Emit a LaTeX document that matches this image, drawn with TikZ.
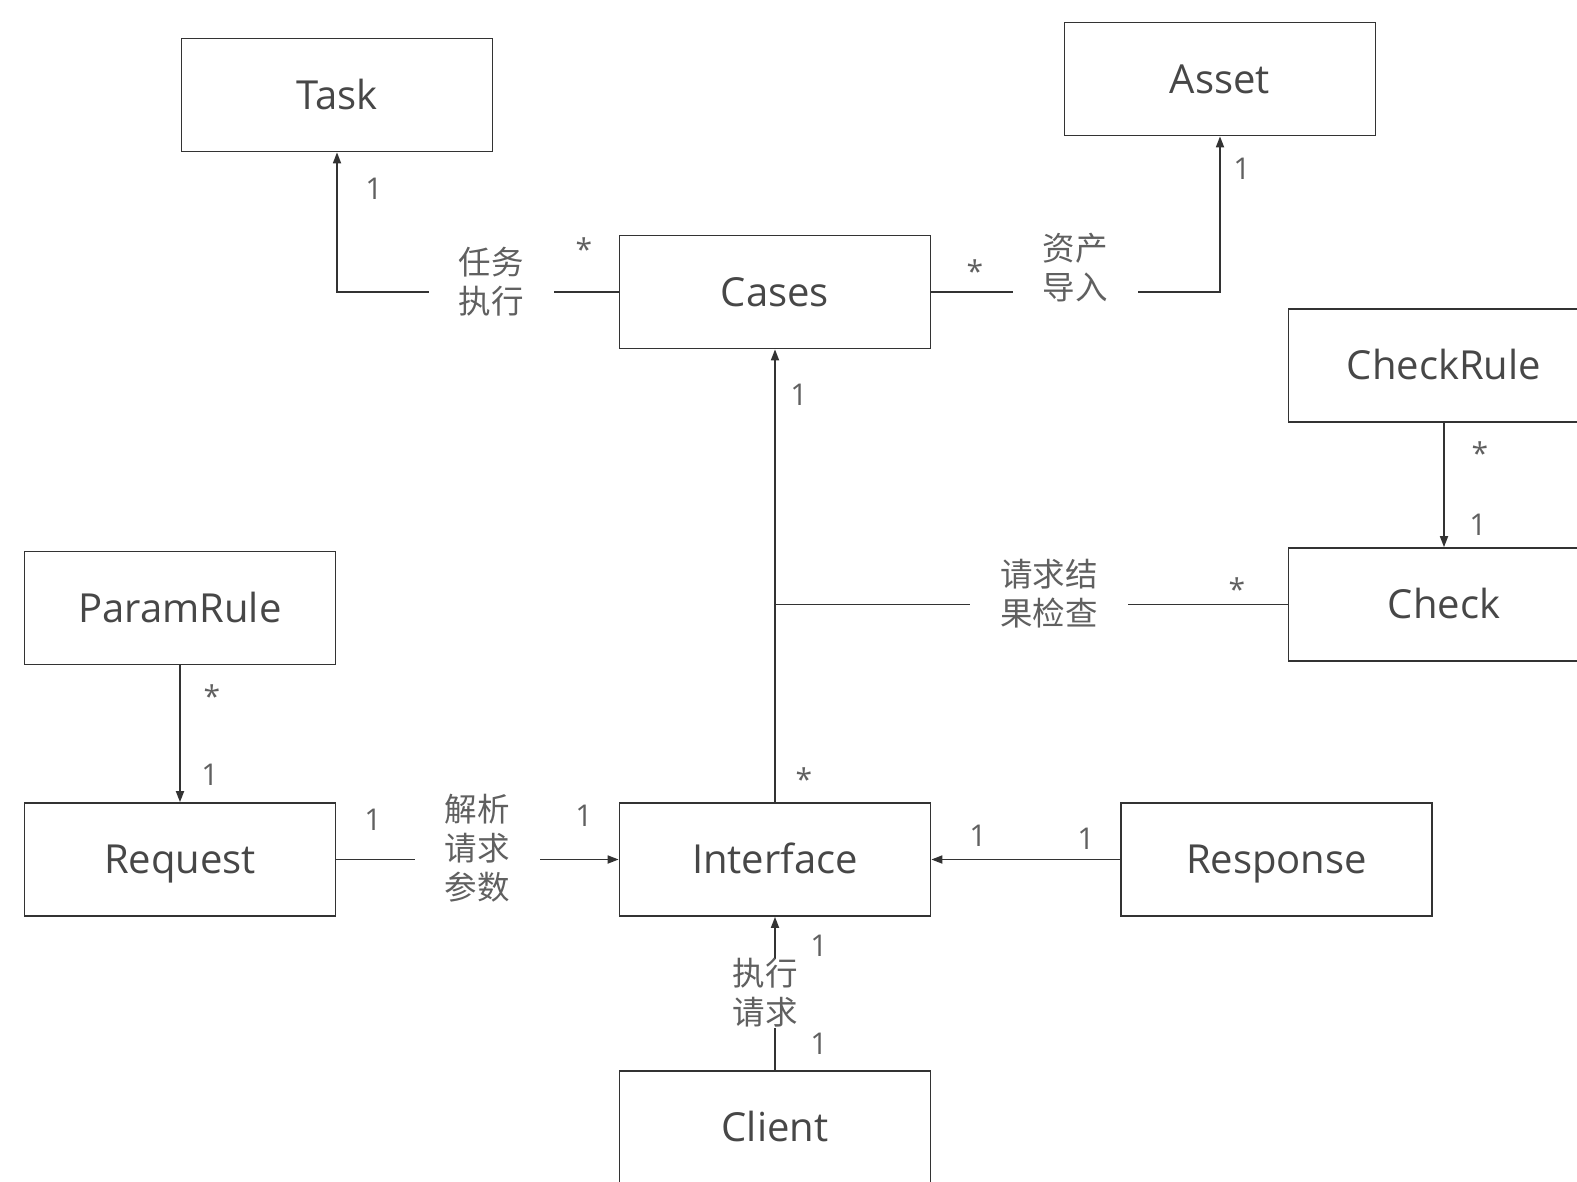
\documentclass[tikz,border=0pt]{standalone}
\usepackage{fontspec}
\setmainfont{Open Sans}
\newfontfamily\cjk{Noto Sans CJK SC}
\usetikzlibrary{arrows.meta}
\definecolor{boxc}{HTML}{333333}
\definecolor{txtc}{HTML}{474747}
\definecolor{lblc}{HTML}{606060}
\definecolor{linec}{HTML}{333333}
\begin{document}
\begin{tikzpicture}[x=1pt,y=-1pt,
  box/.style={draw=boxc, line width=1.7pt, minimum width=311pt, minimum height=113pt, inner sep=0pt, text=txtc, text height=28pt, text depth=0pt, font=\fontsize{40}{46}\selectfont},
  conn/.style={draw=linec, line width=1.7pt},
  arr/.style={conn, -{Triangle[length=11pt,width=8pt]}},
  lbl/.style={fill=white, text=lblc, font=\cjk\fontsize{32.5}{39}\selectfont, align=center, inner xsep=30pt, inner ysep=2pt},
  mult/.style={text=lblc, font=\fontsize{30}{31}\selectfont, inner sep=0pt}]
\useasboundingbox (0,0) rectangle (1577,1181);
\clip (0,0) rectangle (1577,1181);
\fill[white] (0,0) rectangle (1577,1181);
% boxes
\node[box] (Task) at (337,95) {Task};
\node[box] (Asset) at (1220,79) {Asset};
\node[box] (Cases) at (775,292) {Cases};
\node[box] (CheckRule) at (1444,365.5) {CheckRule};
\node[box] (Check) at (1444,604.5) {Check};
\node[box] (ParamRule) at (180,608) {ParamRule};
\node[box] (Request) at (180,859.5) {Request};
\node[box] (Interface) at (775,859.5) {Interface};
\node[box] (Response) at (1276.5,859.5) {Response};
\node[box] (Client) at (775,1127.5) {Client};
% connectors
\draw[arr] (Cases.west) -| (Task.south);
\draw[arr] (Cases.east) -| (Asset.south);
\draw[arr] (CheckRule.south) -- (Check.north);
\draw[arr] (ParamRule.south) -- (Request.north);
\draw[arr] (Interface.north) -- (Cases.south);
\coordinate (J) at (Cases.south |- Check.west);
\draw[conn] (Check.west) -- (J);
\draw[arr] (Request.east) -- (Interface.west);
\draw[arr] (Response.west) -- (Interface.east);
\draw[arr] (Client.north) -- (Interface.south);
% connector labels
\node[lbl] (l1) at (491,282) {任务\\执行};
\node[lbl] (l2) at (1075,268) {资产\\导入};
\node[lbl] (l3) at (1049,594) {请求结\\果检查};
\node[lbl] (l4) at (477,848) {解析\\请求\\参数};
\node[lbl, inner sep=0pt] (l5) at (765,993) {执行\\请求};
% multiplicities
\node[mult] (m1) at (374,189) {1};
\node[mult] (m2) at (584,249) {*};
\node[mult] (m3) at (975,271) {*};
\node[mult] (m4) at (1242,169) {1};
\node[mult] (m5) at (1480,453) {*};
\node[mult] (m6) at (1478,525) {1};
\node[mult] (m7) at (799,395) {1};
\node[mult] (m8) at (804,779) {*};
\node[mult] (m9) at (1237,589) {*};
\node[mult] (m10) at (212,696) {*};
\node[mult] (m11) at (210,775) {1};
\node[mult] (m12) at (373,820) {1};
\node[mult] (m13) at (584,816) {1};
\node[mult] (m14) at (978,836) {1};
\node[mult] (m15) at (1086,839) {1};
\node[mult] (m16) at (819,946) {1};
\node[mult] (m17) at (819,1044) {1};
\end{tikzpicture}
\end{document}
